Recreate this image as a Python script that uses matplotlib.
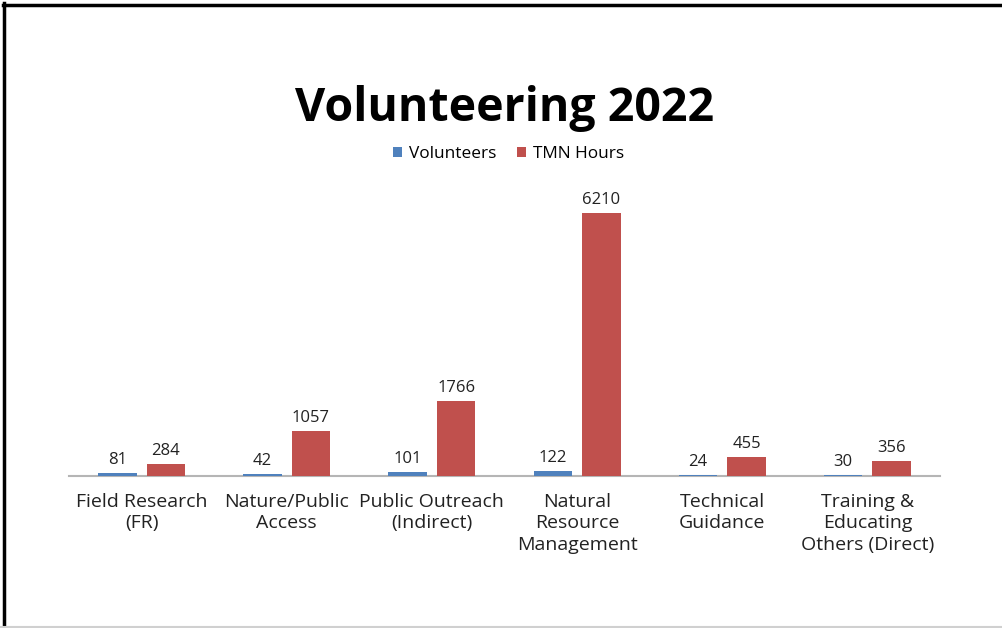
import matplotlib
matplotlib.use("Agg")
import matplotlib.pyplot as plt
import numpy as np
from matplotlib.lines import Line2D

plt.rcParams['font.family'] = ['Open Sans', 'DejaVu Sans']

# activity categories and totals for the year
categories = [
    "Field Research\n(FR)",
    "Nature/Public\nAccess",
    "Public Outreach\n(Indirect)",
    "Natural\nResource\nManagement",
    "Technical\nGuidance",
    "Training &\nEducating\nOthers (Direct)",
]
volunteers = [81, 42, 101, 122, 24, 30]
tmn_hours = [284, 1057, 1766, 6210, 455, 356]

BLUE = "#4F81BD"
RED = "#C0504D"

fig = plt.figure(figsize=(10.03, 6.28), dpi=100)
ax = fig.add_axes([0.0688, 0.2420, 0.8684, 0.4721])

x = np.arange(len(categories))
width = 0.265
offset = 0.167

b1 = ax.bar(x - offset, volunteers, width, color=BLUE, label="Volunteers", zorder=2)
b2 = ax.bar(x + offset, tmn_hours, width, color=RED, label="TMN Hours", zorder=2)

for bars, vals in ((b1, volunteers), (b2, tmn_hours)):
    for rect, v in zip(bars, vals):
        ax.annotate(str(v), (rect.get_x() + rect.get_width() / 2, rect.get_height()),
                    xytext=(0, 3.5), textcoords="offset points",
                    ha="center", va="bottom", fontsize=12, color="#222222")

ax.set_xlim(-0.5, len(categories) - 0.5)
ax.set_ylim(0, 7000)
ax.set_xticks(x)
ax.set_xticklabels(categories, fontsize=14, linespacing=1.27, color="#222222")
ax.tick_params(axis="x", length=0, pad=12)
ax.set_yticks([])
for side in ("left", "right", "top"):
    ax.spines[side].set_visible(False)
ax.spines["bottom"].set_color("#B5B5B5")
ax.spines["bottom"].set_linewidth(1.5)
ax.spines["bottom"].set_zorder(1)

fig.text(0.503, 0.828, "Volunteering 2022", ha="center", va="center",
         fontsize=33.5, fontweight="bold", color="black")

fig.legend(handles=[b1, b2], labels=["Volunteers", "TMN Hours"],
           loc="center", bbox_to_anchor=(0.507, 0.755), ncol=2, frameon=False,
           fontsize=12.4, handlelength=0.55, handleheight=0.55, handletextpad=0.4,
           columnspacing=1.2)

# page frame: heavy top and left rules, faint bottom rule
fig.add_artist(Line2D([0.003, 1.0], [0.9925, 0.9925], color="black", lw=2.5,
                      transform=fig.transFigure))
fig.add_artist(Line2D([0.0042, 0.0042], [0.0, 0.995], color="black", lw=2.5,
                      transform=fig.transFigure))
fig.add_artist(Line2D([0.0, 1.0], [0.002, 0.002], color="#D0D0D0", lw=1.5,
                      transform=fig.transFigure))

fig.savefig("out.png", dpi=100)
